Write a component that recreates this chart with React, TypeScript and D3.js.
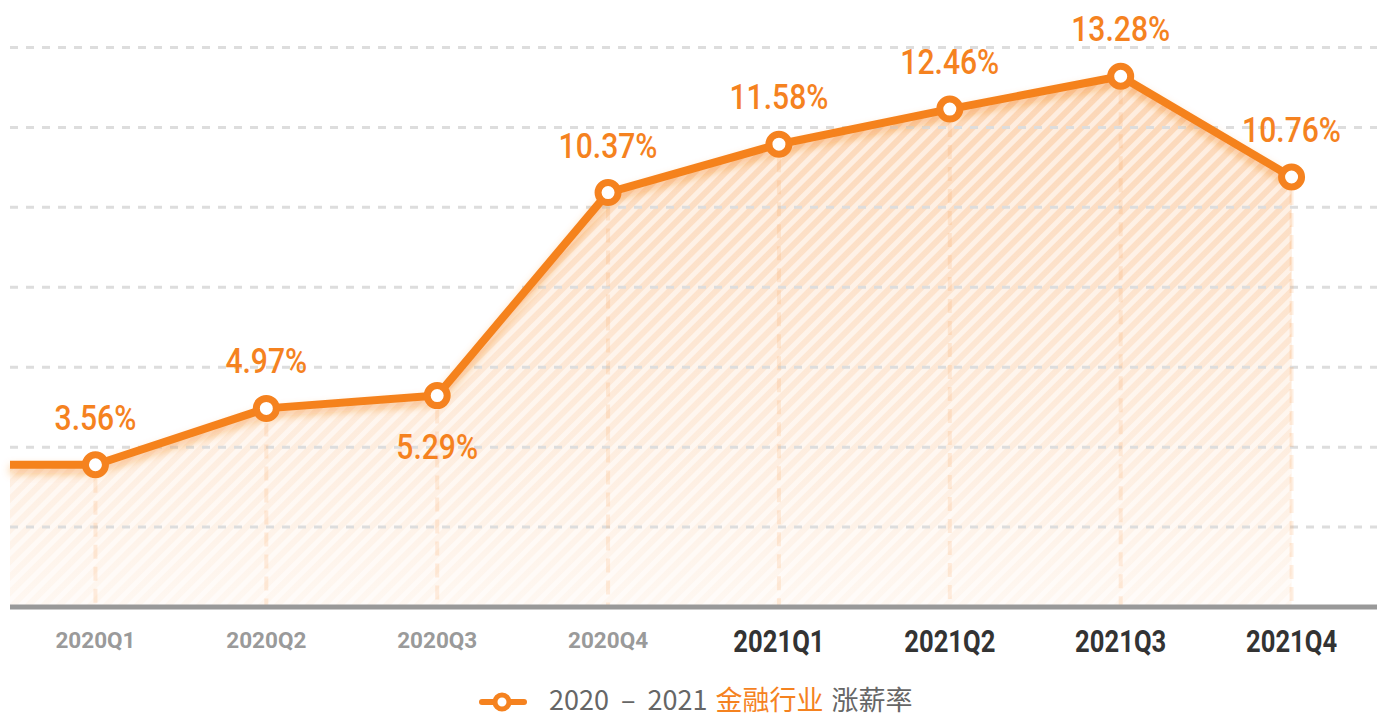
import React from "react";
import * as d3 from "d3";

const categories = ["2020Q1", "2020Q2", "2020Q3", "2020Q4", "2021Q1", "2021Q2", "2021Q3", "2021Q4"];
const values = [3.56, 4.97, 5.29, 10.37, 11.58, 12.46, 13.28, 10.76];
const labelBelow = [false, false, true, false, false, false, false, false];
const gridTicks = [2, 4, 6, 8, 10, 12, 14];
const legendParts = [
  { text: "2020", color: "#666666", gap: 0 },
  { text: "–", color: "#666666", gap: 12 },
  { text: "2021", color: "#666666", gap: 12 },
  { text: "金融行业", color: "#F5821F", gap: 8 },
  { text: "涨薪率", color: "#666666", gap: 8 },
];

const W = 1377;
const H = 717;
const ORANGE = "#F5821F";

export default function App() {
  const x = d3.scaleBand<string>().domain(categories).range([10, 1377]).padding(0);
  const cx = (c: string) => (x(c) as number) + x.bandwidth() / 2;
  const y = d3.scaleLinear().domain([0, 14]).range([607, 47.5]);
  const x0 = x.range()[0];

  const pts: [number, number][] = [[x0, y(values[0])], ...categories.map((c, i) => [cx(c), y(values[i])] as [number, number])];
  const lineGen = d3.line<[number, number]>().x((d) => d[0]).y((d) => d[1]);
  const areaGen = d3.area<[number, number]>().x((d) => d[0]).y0(y(0)).y1((d) => d[1]);
  const linePath = lineGen(pts) as string;
  const areaPath = areaGen(pts) as string;

  const numFont = "Roboto, 'DejaVu Sans', sans-serif";

  return (
    <svg width={W} height={H} style={{ position: "absolute", left: 0, top: 0, background: "#fff" }}>
      <defs>
        <linearGradient id="areaGrad" gradientUnits="userSpaceOnUse" x1="0" y1={y(13.5)} x2="0" y2={y(0)}>
          <stop offset="0" stopColor={ORANGE} stopOpacity={0.34} />
          <stop offset="1" stopColor={ORANGE} stopOpacity={0.06} />
        </linearGradient>
        <pattern id="hatch" patternUnits="userSpaceOnUse" width="11" height="11" patternTransform="rotate(45)">
          <rect x="0" y="0" width="5" height="11" fill="#ffffff" fillOpacity={0.55} />
        </pattern>
        <filter id="glow" x="-10%" y="-30%" width="120%" height="160%">
          <feDropShadow dx="0" dy="5" stdDeviation="4" floodColor={ORANGE} floodOpacity={0.45} />
        </filter>
      </defs>

      {/* area */}
      <path d={areaPath} fill="url(#areaGrad)" />
      <path d={areaPath} fill="url(#hatch)" />

      {/* grid lines */}
      {gridTicks.map((t) => (
        <line key={t} x1={x0} x2={W} y1={y(t)} y2={y(t)} stroke="#dddddd" strokeWidth={3} strokeDasharray="8 8" />
      ))}

      {/* vertical drop lines */}
      {categories.map((c, i) => (
        <line
          key={c}
          x1={cx(c)}
          x2={cx(c)}
          y1={y(values[i]) + 14}
          y2={y(0)}
          stroke={ORANGE}
          strokeOpacity={0.13}
          strokeWidth={4}
          strokeDasharray="14 8"
        />
      ))}

      {/* axis baseline */}
      <line x1={x0} x2={W} y1={y(0)} y2={y(0)} stroke="#999999" strokeWidth={5} />

      {/* line */}
      <path d={linePath} fill="none" stroke={ORANGE} strokeWidth={8} strokeLinejoin="round" filter="url(#glow)" />

      {/* markers */}
      {categories.map((c, i) => (
        <circle key={c} cx={cx(c)} cy={y(values[i])} r={10} fill="#fff" stroke={ORANGE} strokeWidth={7} />
      ))}

      {/* value labels */}
      {categories.map((c, i) => {
        const px = cx(c);
        const py = y(values[i]) + (labelBelow[i] ? 63 : -35);
        return (
          <g key={c} transform={`translate(${px},${py}) scale(0.86,1)`}>
            <text textAnchor="middle" fontFamily={numFont} fontWeight={500} fontSize={35} fill={ORANGE}>
              {values[i].toFixed(2) + "%"}
            </text>
          </g>
        );
      })}

      {/* x axis labels */}
      {categories.map((c) => {
        const old = c.startsWith("2020");
        return (
          <g key={c} transform={`translate(${cx(c)},${old ? 648 : 652}) scale(${old ? 1 : 0.84},1)`}>
            <text
              textAnchor="middle"
              fontFamily={numFont}
              fontWeight={700}
              fontSize={old ? 22.5 : 30.5}
              fill={old ? "#9a9a9a" : "#333333"}
            >
              {c}
            </text>
          </g>
        );
      })}

      {/* legend */}
      <g>
        <line x1={482} x2={524} y1={702} y2={702} stroke={ORANGE} strokeWidth={6} strokeLinecap="round" />
        <circle cx={502} cy={702} r={7} fill="#fff" stroke={ORANGE} strokeWidth={5} />
        <text x={549} y={710} fontFamily="'Noto Sans CJK SC', 'Noto Sans', sans-serif" fontSize={27}>
          {legendParts.map((p, i) => (
            <tspan key={i} dx={p.gap} fill={p.color}>
              {p.text}
            </tspan>
          ))}
        </text>
      </g>
    </svg>
  );
}
